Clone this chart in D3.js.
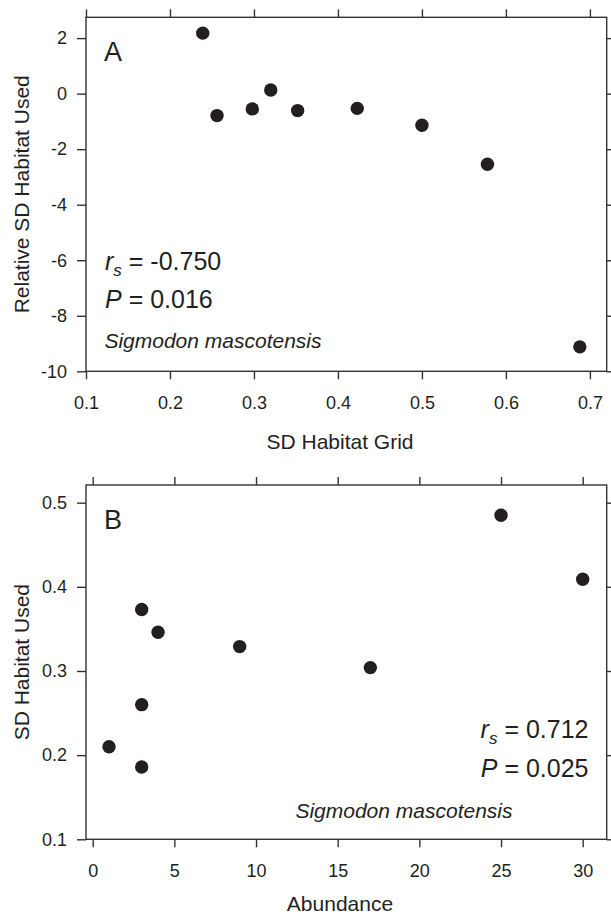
<!DOCTYPE html>
<html><head><meta charset="utf-8">
<script src="https://cdn.jsdelivr.net/npm/d3@7"></script>
<style>
body{margin:0;background:#fff;}
svg{display:block;font-family:"Liberation Sans",Arial,sans-serif;}
</style></head>
<body><svg id="c" width="611" height="918"></svg>
<script>
// Panel A data
const gridSD  = [0.239, 0.256, 0.298, 0.320, 0.352, 0.423, 0.500, 0.578, 0.688];
const relUsed = [2.18, -0.79, -0.55, 0.13, -0.61, -0.53, -1.14, -2.54, -9.12];
const ticksAX = [0.1, 0.2, 0.3, 0.4, 0.5, 0.6, 0.7];
const ticksAY = [-10, -8, -6, -4, -2, 0, 2];
// Panel B data
const abundance = [1, 3, 3, 3, 4, 9, 17, 25, 30];
const usedSD    = [0.210, 0.186, 0.260, 0.373, 0.346, 0.329, 0.304, 0.485, 0.409];
const ticksBX = [0, 5, 10, 15, 20, 25, 30];
const ticksBY = [0.1, 0.2, 0.3, 0.4, 0.5];

const svg = d3.select("#c");
const ink = "#231f20", lineC = "#333";

function panel(o){
  const g = svg.append("g");
  const x = d3.scaleLinear().domain(o.xd).range([86, 606.7]);
  const y = d3.scaleLinear().domain(o.yd).range([o.bottom, o.top]);
  const ax = [
    [d3.axisBottom(x).tickValues(o.tx).tickFormat(o.fx).tickSize(8).tickPadding(17).tickSizeOuter(0), `translate(0,${o.bottom})`],
    [d3.axisLeft(y).tickValues(o.ty).tickFormat(o.fy).tickSize(9).tickPadding(10).tickSizeOuter(0), `translate(86,0)`],
    [d3.axisTop(x).tickValues(o.tx).tickFormat("").tickSize(8).tickSizeOuter(0), `translate(0,${o.top})`],
    [d3.axisRight(y).tickValues(o.ty).tickFormat("").tickSize(8).tickSizeOuter(0), `translate(606.7,0)`]
  ];
  ax.forEach(([a,t])=>{
    const gg = g.append("g").attr("transform",t).call(a);
    gg.select(".domain").remove();
    gg.selectAll("line").attr("stroke",lineC).attr("stroke-width",1.4);
    gg.selectAll("text").attr("font-size",18).attr("fill",ink).attr("font-family","Liberation Sans, Arial, sans-serif");
  });
  g.append("rect").attr("x",86).attr("y",o.top).attr("width",606.7-86).attr("height",o.bottom-o.top)
    .attr("fill","none").attr("stroke",lineC).attr("stroke-width",1.4);
  g.selectAll("circle").data(o.xs.map((v,i)=>[v,o.ys[i]])).join("circle")
    .attr("cx",d=>x(d[0])).attr("cy",d=>y(d[1])).attr("r",6.7).attr("fill",ink);
  g.append("text").attr("x",340).attr("y",o.xtY).attr("text-anchor","middle").attr("font-size",21).attr("fill",ink).text(o.xt);
  g.append("text").attr("transform",`translate(29,${(o.top+o.bottom)/2}) rotate(-90)`).attr("text-anchor","middle").attr("font-size",21).attr("fill",ink).text(o.yt);
  g.append("text").attr("x",104).attr("y",o.top+44).attr("font-size",27).attr("fill",ink).text(o.letter);
  const s = o.stats;
  const t1 = g.append("text").attr("x",s.x).attr("y",s.y1).attr("text-anchor",s.anchor).attr("font-size",25).attr("fill",ink);
  t1.append("tspan").attr("font-style","italic").text("r");
  t1.append("tspan").attr("font-style","italic").attr("font-size",17).attr("dy",6).text("s");
  t1.append("tspan").attr("dy",-6).text(" = " + s.r);
  const t2 = g.append("text").attr("x",s.x).attr("y",s.y2).attr("text-anchor",s.anchor).attr("font-size",25).attr("fill",ink);
  t2.append("tspan").attr("font-style","italic").text("P");
  t2.append("tspan").text(" = " + s.p);
  g.append("text").attr("x",s.sx).attr("y",s.sy).attr("font-size",21).attr("font-style","italic").attr("fill",ink).text("Sigmodon mascotensis");
}

panel({xd:[0.1,0.72], yd:[-10,2.75], top:17.3, bottom:371.3, tx:ticksAX, ty:ticksAY,
  fx:d3.format(".1f"), fy:d=>String(d), xs:gridSD, ys:relUsed,
  xt:"SD Habitat Grid", yt:"Relative SD Habitat Used", xtY:449, letter:"A",
  stats:{x:105, y1:270, y2:307.7, anchor:"start", r:"-0.750", p:"0.016", sx:104.4, sy:347.7}});

panel({xd:[-0.41,31.47], yd:[0.1,0.521], top:485, bottom:839.3, tx:ticksBX, ty:ticksBY,
  fx:d3.format("d"), fy:d3.format(".1f"), xs:abundance, ys:usedSD,
  xt:"Abundance", yt:"SD Habitat Used", xtY:911, letter:"B",
  stats:{x:588.5, y1:738.3, y2:776.7, anchor:"end", r:"0.712", p:"0.025", sx:295.4, sy:817.7}});
</script></body></html>
